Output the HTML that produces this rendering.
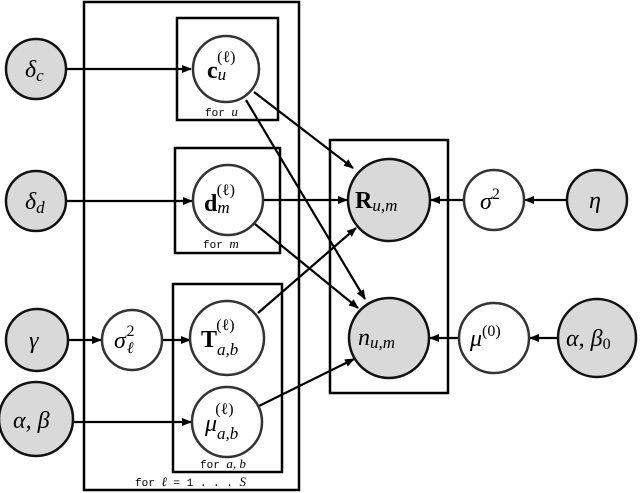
<!DOCTYPE html>
<html><head><meta charset="utf-8"><style>
html,body{margin:0;padding:0;background:#fff;width:640px;height:493px;overflow:hidden}
svg{display:block}
text{font-family:"Liberation Serif",serif;fill:#000}
.i{font-style:italic}
.s{font-family:"Liberation Mono",monospace;font-size:11px}
</style></head><body>
<svg width="640" height="493" viewBox="0 0 640 493" xmlns="http://www.w3.org/2000/svg">
<defs><marker id="a" markerWidth="10" markerHeight="8" refX="9" refY="4" orient="auto" markerUnits="userSpaceOnUse"><path d="M0,0 L10,4 L0,8z" fill="#000"/></marker></defs>
<g fill="none" stroke="#000" stroke-width="2.5">
<rect x="84" y="2" width="215" height="488"/>
<rect x="177" y="18" width="101" height="102"/>
<rect x="175" y="148" width="105" height="105"/>
<rect x="173" y="284" width="109" height="188"/>
<rect x="330" y="140" width="118" height="253"/>
</g>
<g stroke="#000" stroke-width="2.2" fill="none" marker-end="url(#a)">
<line x1="66" y1="69" x2="191" y2="69"/>
<line x1="66" y1="201" x2="192" y2="201"/>
<line x1="68" y1="340" x2="101" y2="340"/>
<line x1="163" y1="340" x2="190" y2="340"/>
<line x1="74" y1="422" x2="191" y2="422"/>
<line x1="254" y1="92" x2="353" y2="168"/>
<line x1="246" y1="100" x2="365" y2="299"/>
<line x1="263" y1="200" x2="347" y2="200"/>
<line x1="255" y1="224" x2="358" y2="308"/>
<line x1="258" y1="313" x2="356" y2="228"/>
<line x1="259" y1="406" x2="354" y2="359"/>
<line x1="464" y1="200" x2="431" y2="200"/>
<line x1="567" y1="200" x2="525" y2="200"/>
<line x1="459" y1="338" x2="430" y2="338"/>
<line x1="558" y1="338" x2="530" y2="338"/>
</g>
<g stroke-width="2.5">
<circle cx="36" cy="69" r="30" fill="#d9d9d9" stroke="#111"/>
<circle cx="36" cy="201" r="30" fill="#d9d9d9" stroke="#111"/>
<circle cx="37" cy="340" r="31" fill="#d9d9d9" stroke="#111"/>
<circle cx="36" cy="419" r="37" fill="#d9d9d9" stroke="#111"/>
<circle cx="132" cy="340" r="30" fill="#fff" stroke="#333"/>
<circle cx="226" cy="69" r="33" fill="#fff" stroke="#333"/>
<circle cx="228" cy="200" r="35" fill="#fff" stroke="#333"/>
<circle cx="227" cy="338" r="37" fill="#fff" stroke="#333"/>
<circle cx="227" cy="422" r="35" fill="#fff" stroke="#333"/>
<circle cx="389" cy="200" r="41" fill="#d9d9d9" stroke="#111"/>
<circle cx="389" cy="338" r="40" fill="#d9d9d9" stroke="#111"/>
<circle cx="494" cy="200" r="30" fill="#fff" stroke="#333"/>
<circle cx="597" cy="200" r="30" fill="#d9d9d9" stroke="#111"/>
<circle cx="494" cy="338" r="35" fill="#fff" stroke="#333"/>
<circle cx="597" cy="338" r="39" fill="#d9d9d9" stroke="#111"/>
</g>
<g font-size="24">
<text x="25" y="77" class="i">δ<tspan font-size="17" dy="4">c</tspan></text>
<text x="25" y="209" class="i">δ<tspan font-size="17" dy="4">d</tspan></text>
<text x="29" y="348" class="i">γ</text>
<text x="13" y="428" class="i">α, β</text>
<text x="114" y="348" class="i">σ<tspan font-size="16" dx="1" dy="5">ℓ</tspan><tspan font-size="16" dx="-7" dy="-17" font-style="normal">2</tspan></text>
<text x="207" y="78" font-weight="bold">c<tspan font-size="17" font-style="italic" font-weight="normal" dy="2">u</tspan><tspan font-size="16" font-weight="normal" dx="-9" dy="-18">(ℓ)</tspan></text>
<text x="204" y="211" font-weight="bold">d<tspan font-size="17" font-style="italic" font-weight="normal" dy="2">m</tspan><tspan font-size="16" font-weight="normal" dx="-13" dy="-18">(ℓ)</tspan></text>
<text x="201" y="347" font-weight="bold">T<tspan font-size="17" font-style="italic" font-weight="normal" dy="8">a,b</tspan><tspan font-size="16" font-weight="normal" dx="-22" dy="-25">(ℓ)</tspan></text>
<text x="205" y="431" class="i">μ<tspan font-size="17" dy="8">a,b</tspan><tspan font-size="16" font-style="normal" dx="-23" dy="-25">(ℓ)</tspan></text>
<text x="355" y="208" font-weight="bold">R<tspan font-size="17" font-style="italic" font-weight="normal" dy="3">u,m</tspan></text>
<text x="358" y="345" class="i">n<tspan font-size="17" dy="3">u,m</tspan></text>
<text x="480" y="209" class="i">σ<tspan font-size="16" font-style="normal" dy="-10">2</tspan></text>
<text x="589" y="208" class="i">η</text>
<text x="470" y="346" class="i">μ<tspan font-size="16" font-style="normal" dy="-10">(0)</tspan></text>
<text x="566" y="346" class="i">α, β<tspan font-size="16" font-style="normal" dy="3">0</tspan></text>
</g>
<text x="205" y="116" class="s">for <tspan class="i" font-family="Liberation Serif" font-size="13">u</tspan></text>
<text x="203" y="248" class="s">for <tspan class="i" font-family="Liberation Serif" font-size="13">m</tspan></text>
<text x="200" y="468" class="s">for <tspan class="i" font-family="Liberation Serif" font-size="13">a, b</tspan></text>
<text x="135" y="486" class="s">for <tspan class="i" font-family="Liberation Serif" font-size="13">ℓ</tspan> = 1 . . . <tspan class="i" font-family="Liberation Serif" font-size="13">S</tspan></text>
</svg>
</body></html>
